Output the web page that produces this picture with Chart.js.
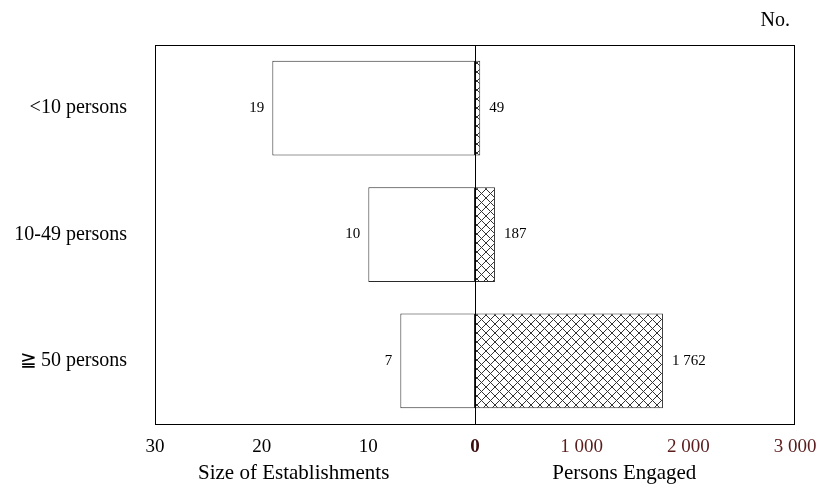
<!DOCTYPE html>
<html>
<head>
<meta charset="utf-8">
<script src="https://cdn.jsdelivr.net/npm/chart.js@4"></script>
<style>
  html, body { margin: 0; padding: 0; background: #fff; }
  #wrap { width: 819px; height: 485px; }
</style>
</head>
<body>
<div id="wrap"><canvas id="chart"></canvas></div>
<script>
// Data
const categories = ['<10 persons', '10-49 persons', '\u2267\u200950 persons'];
const establishments = [19, 10, 7];
const personsEngaged = [49, 187, 1762];
const personsLabels = ['49', '187', '1 762'];
const tickLabels = ['30', '20', '10', '0', '1 000', '2 000', '3 000'];
const leftTitle = 'Size of Establishments';
const rightTitle = 'Persons Engaged';
const unitLabel = 'No.';

const serif = '"Liberation Serif", "Times New Roman", serif';
const darkRed = '#5a1c1c';

// cross-hatch fill for the persons bars
function makeHatch() {
    const c = document.createElement('canvas');
    c.width = 9; c.height = 9;
    const g = c.getContext('2d');
    g.fillStyle = '#fff';
    g.fillRect(0, 0, 9, 9);
    g.strokeStyle = '#333';
    g.lineWidth = 1;
    g.beginPath();
    g.moveTo(0, 0); g.lineTo(9, 9);
    g.moveTo(0, 9); g.lineTo(9, 0);
    g.stroke();
    return g.createPattern(c, 'repeat');
}

// frame, zero line, value labels and titles
const decor = {
    id: 'decor',
    afterDatasetsDraw(chart) {
        const { ctx, chartArea: a } = chart;
        const x0 = chart.scales.x.getPixelForValue(0);
        ctx.save();
        ctx.strokeStyle = '#000';
        ctx.lineWidth = 1;
        ctx.strokeRect(a.left + 0.5, a.top + 0.5, a.right - a.left - 1, a.bottom - a.top);
        ctx.beginPath();
        ctx.moveTo(Math.round(x0) + 0.5, a.top);
        ctx.lineTo(Math.round(x0) + 0.5, a.bottom);
        ctx.stroke();

        ctx.fillStyle = '#000';
        ctx.font = '15px ' + serif;
        ctx.textBaseline = 'middle';
        chart.getDatasetMeta(0).data.forEach((bar, i) => {
            ctx.textAlign = 'right';
            ctx.fillText(String(establishments[i]), bar.x - 8, bar.y);
        });
        chart.getDatasetMeta(1).data.forEach((bar, i) => {
            ctx.textAlign = 'left';
            ctx.fillText(personsLabels[i], bar.x + 9, bar.y);
        });

        ctx.font = '20px ' + serif;
        ctx.textAlign = 'right';
        ctx.fillText(unitLabel, a.right - 5, a.top - 24);
        ctx.font = '21px ' + serif;
        ctx.textAlign = 'center';
        const xs = chart.scales.x;
        ctx.fillText(leftTitle, xs.getPixelForValue(-17), a.bottom + 49);
        ctx.fillText(rightTitle, xs.getPixelForValue(14), a.bottom + 49);
        ctx.restore();
    }
};

new Chart(document.getElementById('chart'), {
    type: 'bar',
    data: {
        labels: categories,
        datasets: [
            {
                label: leftTitle,
                data: establishments.map(v => -v),
                xAxisID: 'x',
                backgroundColor: '#fff',
                borderColor: '#2a2a2a',
                borderWidth: 1,
                borderSkipped: false,
                grouped: false,
                barPercentage: 0.75,
                categoryPercentage: 1
            },
            {
                label: rightTitle,
                data: personsEngaged,
                xAxisID: 'x2',
                backgroundColor: makeHatch(),
                borderColor: '#2a2a2a',
                borderWidth: 1,
                borderSkipped: false,
                grouped: false,
                barPercentage: 0.75,
                categoryPercentage: 1
            }
        ]
    },
    options: {
        indexAxis: 'y',
        responsive: true,
        maintainAspectRatio: false,
        animation: false,
        layout: { padding: { top: 45, right: 24, left: 0, bottom: 0 } },
        plugins: {
            legend: { display: false },
            tooltip: { enabled: false }
        },
        scales: {
            y: {
                grid: { display: false, drawTicks: false },
                border: { display: false },
                ticks: {
                    color: '#000',
                    padding: 28,
                    font: { family: serif, size: 20 }
                },
                afterFit(s) { s.width = 155; }
            },
            x: {
                min: -30,
                max: 30,
                grid: { display: false, drawTicks: false },
                border: { display: false },
                ticks: {
                    stepSize: 10,
                    padding: 12,
                    maxRotation: 0,
                    callback: (v, i) => tickLabels[i],
                    color: ctx => ctx.tick && ctx.tick.value > 0 ? darkRed : (ctx.tick && ctx.tick.value === 0 ? '#3a0d0d' : '#000'),
                    font: ctx => ({ family: serif, size: 19, weight: ctx.tick && ctx.tick.value === 0 ? 'bold' : 'normal' })
                },
                afterFit(s) {
                    s.height = 61;
                    s.paddingLeft = 0;
                    s.paddingRight = 0;
                }
            },
            x2: {
                display: false,
                min: -3000,
                max: 3000
            }
        }
    },
    plugins: [decor]
});
</script>
</body>
</html>
